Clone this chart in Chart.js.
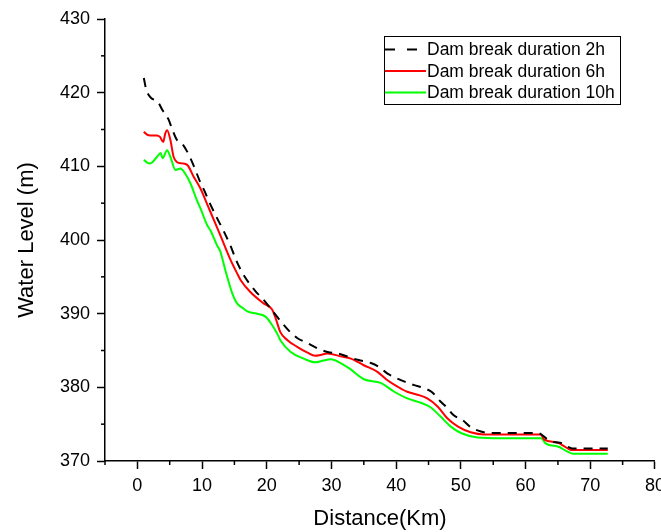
<!DOCTYPE html>
<html>
<head>
<meta charset="utf-8">
<script src="https://cdn.jsdelivr.net/npm/chart.js@4.4.0/dist/chart.umd.min.js"></script>
<style>
  html, body { margin: 0; padding: 0; background: #fff; overflow: hidden; }
  #wrap { position: absolute; left: 0; top: 0; width: 671px; height: 532px; }
</style>
</head>
<body>
<div id="wrap"><canvas id="c" width="671" height="532"></canvas></div>
<script>
// ---- data ----
const seriesLabels = ['Dam break duration 2h', 'Dam break duration 6h', 'Dam break duration 10h'];

const dist2h = [1.0,1.35,2.0,3.2,3.9,4.8,5.4,6.1,6.9,7.7,8.6,9.7,10.3,11.3,12.3,13.4,14.4,15.4,16.6,18.3,19.3,20.6,21.4,22.4,23.4,24.7,26.3,27.8,29.4,31.4,33.0,34.2,36.1,37.3,38.6,39.7,41.2,42.8,44.3,45.6,46.6,47.9,48.9,50.2,51.5,53.1,54.6,56.0,58.0,60.0,62.0,62.6,63.3,64.2,65.7,66.4,67.2,68.5,70.5,72.7];
const level2h = [422.0,420.5,419.4,418.7,417.6,416.4,415.0,413.6,413.1,412.0,410.3,407.9,406.8,404.8,403.0,401.1,399.2,397.0,395.0,393.0,392.1,390.7,389.8,388.7,387.7,386.7,386.0,385.3,384.8,384.5,384.0,383.7,383.3,382.8,381.9,381.4,380.8,380.3,379.9,379.3,378.3,377.2,376.2,375.6,374.6,374.0,373.8,373.8,373.8,373.8,373.8,373.5,373.0,372.6,372.4,372.0,371.7,371.7,371.7,371.7];

const dist6h = [1.0,1.5,2.0,3.0,3.5,4.0,4.3,4.6,5.1,5.6,6.1,6.9,7.7,8.7,9.75,10.3,11.3,12.8,14.4,15.4,16.0,17.5,19.5,20.8,21.4,22.1,23.2,24.7,26.3,27.5,28.3,29.4,31.4,33.0,35.0,37.1,38.6,40.2,41.7,43.3,44.8,46.4,47.9,49.5,51.5,53.6,56.0,59.0,62.3,62.9,64.9,66.0,67.0,70.0,72.7];
const level6h = [414.7,414.3,414.2,414.2,414.0,413.3,414.4,414.9,413.6,411.3,410.6,410.4,410.2,408.6,407.0,405.9,403.8,400.7,397.3,395.5,394.5,392.9,391.4,390.6,389.3,387.5,386.4,385.5,384.7,384.3,384.4,384.6,384.2,383.9,383.0,382.1,381.0,380.1,379.4,379.0,378.5,377.4,375.8,374.7,373.9,373.6,373.6,373.6,373.6,372.9,372.5,372.0,371.5,371.5,371.5];

const dist10h = [1.0,1.5,2.0,3.05,3.6,3.9,4.6,5.1,5.9,6.65,7.4,8.2,9.2,9.75,10.8,11.3,12.3,12.8,13.6,14.65,15.4,16.4,17.0,18.5,19.8,20.8,21.6,22.1,23.7,25.7,27.5,28.6,29.9,31.4,32.7,35.0,37.6,39.7,41.7,43.8,45.3,46.9,48.4,50.0,52.6,56.2,60.0,62.4,63.1,65.2,66.2,67.3,70.0,72.7];
const level10h = [410.9,410.5,410.4,411.3,411.8,411.1,412.2,411.3,409.5,409.7,409.0,407.7,405.4,404.3,402.0,401.3,399.3,398.5,395.9,392.8,391.4,390.7,390.3,390.0,389.6,388.5,387.3,386.4,384.8,383.9,383.4,383.6,383.8,383.3,382.6,381.1,380.6,379.4,378.5,377.9,377.3,376.0,374.7,373.8,373.2,373.1,373.1,373.1,372.4,371.9,371.4,371.0,371.0,371.0];

const xTickLabels = [0,10,20,30,40,50,60,70,80];
const yTickLabels = [370,380,390,400,410,420,430];

const pts = (xs, ys) => xs.map((x, i) => ({x: x, y: ys[i]}));

const FONT = '"Liberation Sans", Arial, sans-serif';

const minorTicks = {
  id: 'minorTicks',
  afterDraw(chart) {
    const ctx = chart.ctx, xs = chart.scales.x, ys = chart.scales.y;
    ctx.save();
    ctx.strokeStyle = '#000';
    ctx.lineWidth = 1.5;
    xs.ticks.forEach(t => {
      if (!xTickLabels.includes(t.value)) {
        const px = xs.getPixelForValue(t.value);
        ctx.beginPath(); ctx.moveTo(px, xs.top); ctx.lineTo(px, xs.top + 4); ctx.stroke();
      }
    });
    ys.ticks.forEach(t => {
      if (!yTickLabels.includes(t.value)) {
        const py = ys.getPixelForValue(t.value);
        ctx.beginPath(); ctx.moveTo(ys.right, py); ctx.lineTo(ys.right - 4, py); ctx.stroke();
      }
    });
    ctx.restore();
  }
};

const boxLegend = {
  id: 'boxLegend',
  afterDraw(chart) {
    const ctx = chart.ctx;
    ctx.save();
    ctx.setLineDash([]);
    ctx.strokeStyle = '#000';
    ctx.lineWidth = 1;
    ctx.strokeRect(384.5, 36.5, 236, 68);
    chart.data.datasets.forEach((ds, i) => {
      const y = 49.5 + i * 21.5;
      ctx.beginPath();
      ctx.strokeStyle = ds.borderColor;
      ctx.lineWidth = ds.borderWidth;
      ctx.setLineDash(ds.borderDash && ds.borderDash.length ? [10, 12] : []);
      ctx.moveTo(385, y); ctx.lineTo(426, y);
      ctx.stroke();
      ctx.setLineDash([]);
      ctx.fillStyle = '#000';
      ctx.font = '17.5px ' + FONT;
      ctx.textBaseline = 'middle';
      ctx.textAlign = 'left';
      ctx.fillText(ds.label, 427, y + 1);
    });
    ctx.restore();
  }
};

new Chart(document.getElementById('c'), {
  type: 'line',
  data: {
    datasets: [
      { label: seriesLabels[0], data: pts(dist2h, level2h), borderColor: '#000000', borderWidth: 2, borderDash: [9, 7], pointRadius: 0, cubicInterpolationMode: 'monotone', fill: false },
      { label: seriesLabels[1], data: pts(dist6h, level6h), borderColor: '#ff0000', borderWidth: 2, pointRadius: 0, cubicInterpolationMode: 'monotone', fill: false },
      { label: seriesLabels[2], data: pts(dist10h, level10h), borderColor: '#00ff00', borderWidth: 2, pointRadius: 0, cubicInterpolationMode: 'monotone', fill: false }
    ]
  },
  options: {
    responsive: false,
    animation: false,
    devicePixelRatio: 1,
    layout: { padding: { top: 19, right: 0, bottom: 0, left: 0 } },
    plugins: { legend: { display: false }, tooltip: { enabled: false } },
    scales: {
      x: {
        type: 'linear', min: -5, max: 80,
        afterFit: s => { s.height = 71; },
        ticks: {
          stepSize: 5, autoSkip: false, maxRotation: 0, padding: 6, color: '#000',
          font: { family: FONT, size: 18 },
          callback: v => xTickLabels.includes(v) ? String(v) : ''
        },
        grid: { drawOnChartArea: false, tickLength: 8, tickWidth: 1.5,
          tickColor: c => (c.tick && xTickLabels.includes(c.tick.value)) ? '#000' : 'rgba(0,0,0,0)' },
        border: { display: true, color: '#000', width: 1.5 },
        title: { display: true, text: 'Distance(Km)', color: '#000', font: { family: FONT, size: 22 }, padding: { top: 0, bottom: 0 } }
      },
      y: {
        type: 'linear', min: 370, max: 430,
        afterFit: s => { s.width = 105; },
        ticks: {
          stepSize: 5, autoSkip: false, padding: 7, color: '#000',
          font: { family: FONT, size: 18 },
          callback: v => yTickLabels.includes(v) ? String(v) : ''
        },
        grid: { drawOnChartArea: false, tickLength: 8, tickWidth: 1.5,
          tickColor: c => (c.tick && yTickLabels.includes(c.tick.value)) ? '#000' : 'rgba(0,0,0,0)' },
        border: { display: true, color: '#000', width: 1.5 },
        title: { display: true, text: 'Water Level (m)', color: '#000', font: { family: FONT, size: 22 }, padding: { top: 14, bottom: 0 } }
      }
    }
  },
  plugins: [minorTicks, boxLegend]
});
</script>
</body>
</html>
